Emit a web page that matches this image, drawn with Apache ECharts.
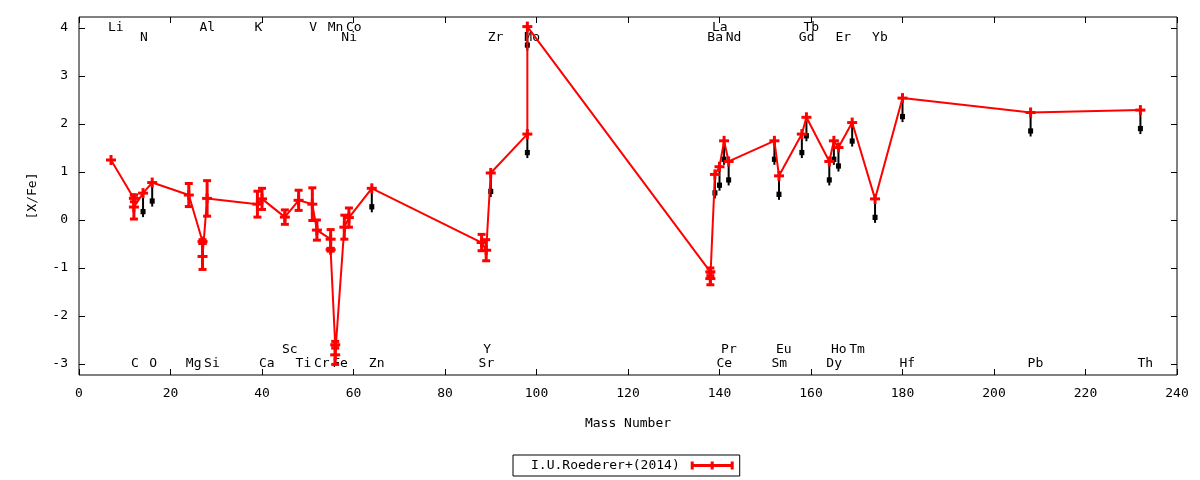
<!DOCTYPE html>
<html>
<head>
<meta charset="utf-8">
<title>[X/Fe] vs Mass Number</title>
<script src="https://cdn.jsdelivr.net/npm/echarts@6.0.0/dist/echarts.min.js"></script>
<style>
html, body { margin: 0; padding: 0; background: #fff; }
#abund { width: 1200px; height: 480px; }
</style>
</head>
<body>
<div id="abund"></div>
<script>
// measured abundances, in plotting order (the red line follows this order)
var masses = [7, 12, 12, 14, 16, 24, 27, 27, 28, 39, 40, 45, 48, 51, 52, 55, 55, 56, 56, 58, 59, 64,
	88, 89, 90, 98, 98, 138, 138, 139, 140, 141, 142, 152, 153, 158, 159, 164, 165, 166, 169, 174, 180, 208, 232];
var xfe = [1.25, 0.45, 0.27, 0.56, 0.78, 0.52, -0.45, -0.76, 0.45, 0.33, 0.44, 0.06, 0.41, 0.33, -0.21, -0.40, -0.62, -2.60, -2.81, -0.15, 0.05, 0.66,
	-0.47, -0.63, 0.98, 1.79, 4.03, -1.08, -1.22, 0.95, 1.11, 1.65, 1.22, 1.65, 0.92, 1.79, 2.14, 1.22, 1.65, 1.51, 2.03, 0.44, 2.54, 2.24, 2.29];
var xfeErr = [0, 0.07, 0.25, 0, 0, 0.24, 0.04, 0.27, 0.37, 0.27, 0.22, 0.15, 0.21, 0.34, 0.21, 0.20, 0.03, 0.07, 0.20, 0.25, 0.20, 0,
	0.17, 0.22, 0, 0, 0, 0.08, 0.13, 0, 0, 0, 0, 0, 0, 0, 0, 0, 0, 0, 0, 0, 0, 0, 0];
// 1 = upper limit (black arrow)
var upperLimit = [0, 0, 0, 1, 1, 0, 0, 0, 0, 0, 0, 0, 0, 0, 0, 0, 0, 0, 0, 0, 0, 1,
	0, 0, 1, 1, 1, 0, 0, 1, 1, 1, 1, 1, 1, 1, 1, 1, 1, 1, 1, 1, 1, 1, 1];

// element names along the top / bottom of the frame
var elemNames = ['Li', 'C', 'N', 'O', 'Mg', 'Al', 'Si', 'K', 'Ca', 'Sc', 'Ti', 'V', 'Cr', 'Mn', 'Fe', 'Co', 'Ni', 'Zn',
	'Sr', 'Y', 'Zr', 'Mo', 'Ba', 'La', 'Ce', 'Pr', 'Nd', 'Sm', 'Eu', 'Gd', 'Tb', 'Dy', 'Ho', 'Er', 'Tm', 'Yb', 'Hf', 'Pb', 'Th'];
var elemMass = [7, 12, 14, 16, 24, 27, 28, 39, 40, 45, 48, 51, 52, 55, 56, 59, 58, 64,
	88, 89, 90, 98, 138, 139, 140, 141, 142, 152, 153, 158, 159, 164, 165, 166, 169, 174, 180, 208, 232];
// 0 = top row, 1 = second row, 2 = upper bottom row, 3 = bottom row
var elemRow = [0, 3, 1, 3, 3, 0, 3, 0, 3, 2, 3, 0, 3, 0, 3, 0, 1, 3,
	3, 2, 1, 1, 1, 0, 3, 2, 1, 3, 2, 1, 0, 3, 2, 1, 2, 1, 3, 3, 3];

var yTicks = [-3, -2, -1, 0, 1, 2, 3, 4];
var seriesName = 'I.U.Roederer+(2014)';

window.onload = function () {

var chart = echarts.init(document.querySelector('#abund'));
var RED = '#ff0000';
var FONT = 'DejaVu Sans Mono';
var rowY = [4.0, 3.79, -2.71, -3.0];

function seg(x1, y1, x2, y2, c, w) {
	return { type: 'line', shape: { x1: x1, y1: y1, x2: x2, y2: y2 }, style: { stroke: c, lineWidth: w } };
}

// red "+" with optional error bar
function renderErr(params, api) {
	var x = api.value(0), y = api.value(1), e = api.value(2);
	var p = api.coord([x, y]);
	var kids = [];
	if (e > 0) {
		var t = api.coord([x, y + e]), b = api.coord([x, y - e]);
		kids.push(seg(p[0], t[1], p[0], b[1], RED, 3));
		kids.push(seg(p[0] - 4, t[1], p[0] + 4, t[1], RED, 3));
		kids.push(seg(p[0] - 4, b[1], p[0] + 4, b[1], RED, 3));
	}
	kids.push(seg(p[0] - 5, p[1], p[0] + 5, p[1], RED, 3));
	kids.push(seg(p[0], p[1] - 5, p[0], p[1] + 5, RED, 3));
	return { type: 'group', children: kids };
}

// black downward arrow for upper limits
function renderArrow(params, api) {
	var x = api.value(0), y = api.value(1);
	var p = api.coord([x, y]);
	var q = api.coord([x, y - 0.5]);
	var h = q[1] - p[1];
	return { type: 'group', children: [
		seg(p[0], p[1], p[0], q[1], '#000', 2),
		{ type: 'rect', shape: { x: p[0] - 2.5, y: p[1] + h * 0.66, width: 5, height: h * 0.22 }, style: { fill: '#000' } }
	] };
}

function renderLabel(params, api) {
	var p = api.coord([api.value(0), api.value(1)]);
	return { type: 'text', x: p[0] - 3, y: p[1], style: {
		text: elemNames[params.dataIndex], fill: '#000', fontSize: 13, fontFamily: FONT,
		align: 'left', verticalAlign: 'middle'
	} };
}

var lineData = masses.map(function (m, i) { return [m, xfe[i]]; });
var errData = masses.map(function (m, i) { return [m, xfe[i], xfeErr[i]]; });
var arrowData = [];
masses.forEach(function (m, i) { if (upperLimit[i]) arrowData.push([m, xfe[i]]); });
var labelData = elemMass.map(function (m, i) { return [m, rowY[elemRow[i]]]; });

var tick = { inside: true, length: 6, lineStyle: { color: '#000', width: 1 } };
var noLine = { show: false, onZero: false };

var option = {
	animation: false,
	backgroundColor: '#fff',
	textStyle: { fontFamily: FONT },
	grid: { left: 79, right: 23, top: 17, bottom: 105, show: true, borderColor: '#000', borderWidth: 1 },
	legend: {
		data: [seriesName],
		left: 513, top: 455,
		align: 'right',
		orient: 'horizontal',
		borderColor: '#000', borderWidth: 1, borderRadius: 0,
		padding: [3, 6, 3, 18],
		itemWidth: 43, itemHeight: 8,
		icon: 'path://M0,0H3V2.5H20V0H23V2.5H40V0H43V8H40V5.5H23V8H20V5.5H3V8H0Z',
		textStyle: { color: '#000', fontSize: 13, fontFamily: FONT, padding: [0, 6, 0, 0], lineHeight: 15 }
	},
	xAxis: [{
		type: 'value', min: 0, max: 240, interval: 20, position: 'bottom',
		axisLine: noLine, axisTick: tick, splitLine: { show: false },
		axisLabel: { color: '#000', fontSize: 13, fontFamily: FONT, margin: 12 },
		name: 'Mass Number', nameLocation: 'middle', nameGap: 42,
		nameTextStyle: { color: '#000', fontSize: 13, fontFamily: FONT }
	}, {
		type: 'value', min: 0, max: 240, interval: 20, position: 'top',
		axisLine: noLine, axisTick: tick, splitLine: { show: false }, axisLabel: { show: false }
	}],
	yAxis: [{
		type: 'value', min: -3.23, max: 4.23, position: 'left',
		axisLine: noLine, splitLine: { show: false },
		axisTick: { inside: true, length: 6, lineStyle: { color: '#000', width: 1 }, customValues: yTicks },
		axisLabel: { color: '#000', fontSize: 13, fontFamily: FONT, margin: 11, customValues: yTicks },
		name: '[X/Fe]', nameLocation: 'middle', nameRotate: 90, nameGap: 40,
		nameTextStyle: { color: '#000', fontSize: 13, fontFamily: FONT }
	}, {
		type: 'value', min: -3.23, max: 4.23, position: 'right',
		axisLine: noLine, splitLine: { show: false },
		axisTick: { inside: true, length: 6, lineStyle: { color: '#000', width: 1 }, customValues: yTicks },
		axisLabel: { show: false }
	}],
	series: [{
		name: 'labels', type: 'custom', renderItem: renderLabel, data: labelData,
		xAxisIndex: 0, yAxisIndex: 0, z: 1, silent: true
	}, {
		name: 'limits', type: 'custom', renderItem: renderArrow, data: arrowData,
		xAxisIndex: 0, yAxisIndex: 0, z: 2, silent: true
	}, {
		name: seriesName, type: 'line', data: lineData, xAxisIndex: 0, yAxisIndex: 0,
		symbol: 'none', color: RED, lineStyle: { color: RED, width: 2 }, z: 3
	}, {
		name: 'errors', type: 'custom', renderItem: renderErr, data: errData,
		xAxisIndex: 0, yAxisIndex: 0, z: 4, silent: true
	}]
};

chart.setOption(option);
}
</script>
</body>
</html>
